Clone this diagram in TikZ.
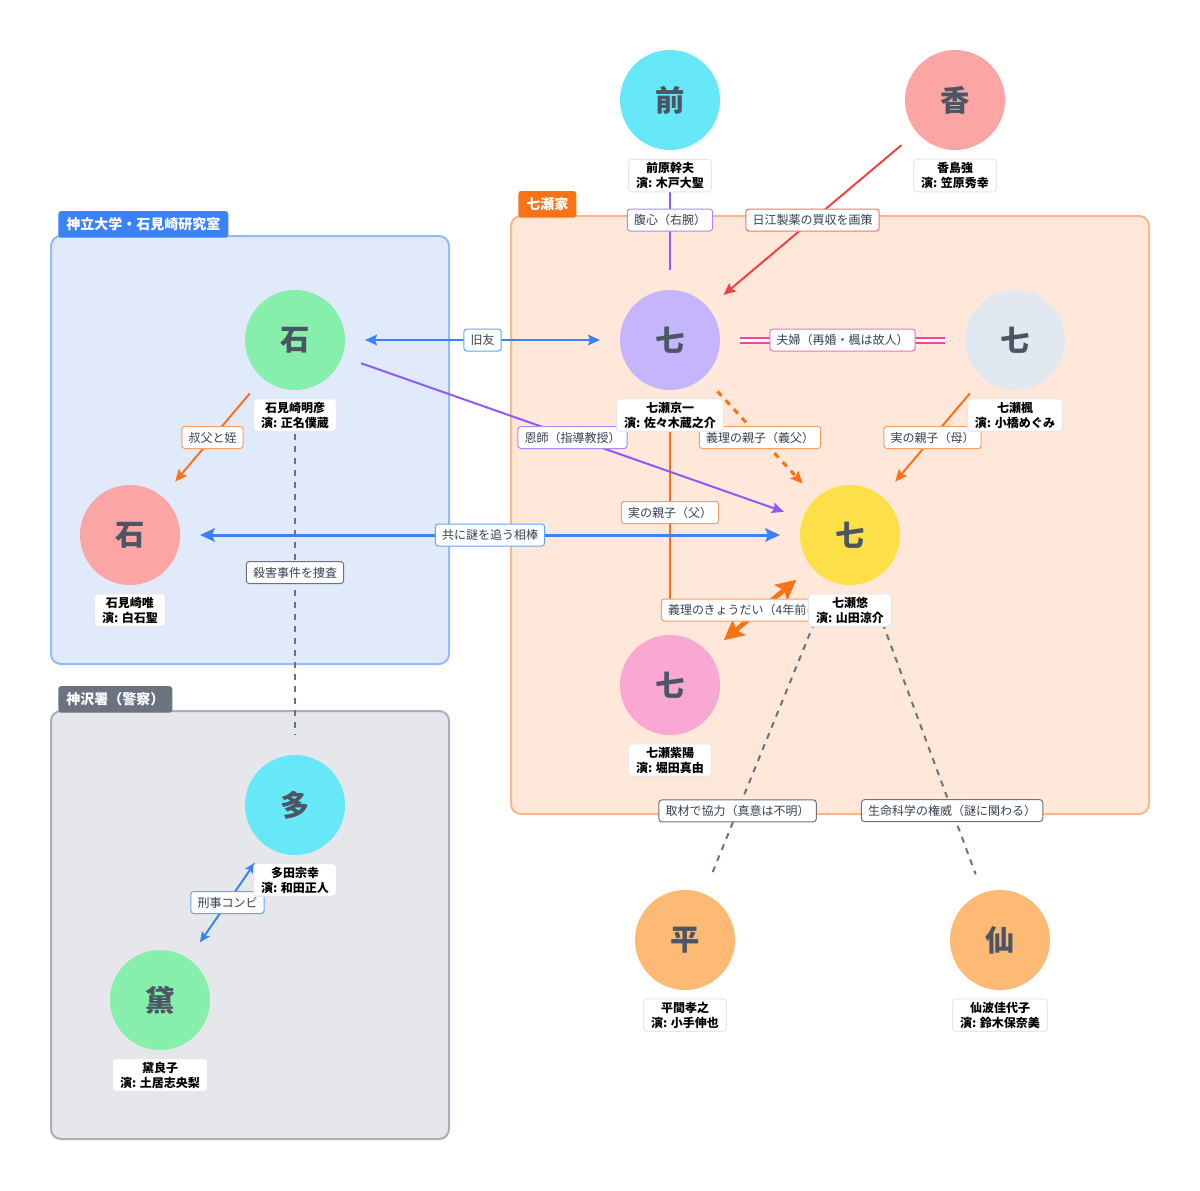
\documentclass[tikz,border=0pt]{standalone}
\usepackage{fontspec}
\setmainfont{Noto Sans CJK JP}
\usetikzlibrary{arrows.meta}
\definecolor{cCyan}{HTML}{67E8F9}
\definecolor{cRose}{HTML}{FCA5A5}
\definecolor{cGreen}{HTML}{86EFAC}
\definecolor{cLav}{HTML}{C4B5FD}
\definecolor{cSlate}{HTML}{E2E8F0}
\definecolor{cYellow}{HTML}{FDE047}
\definecolor{cPink}{HTML}{F9A8D4}
\definecolor{cPeach}{HTML}{FDBA74}
\definecolor{circtxt}{HTML}{4B5563}
\definecolor{labeltxt}{HTML}{374151}
\definecolor{nameborder}{HTML}{E5E7EB}
\definecolor{eBlue}{HTML}{3B82F6}
\definecolor{eBlueL}{HTML}{60A5FA}
\definecolor{ePurple}{HTML}{8B5CF6}
\definecolor{ePurpleL}{HTML}{A78BFA}
\definecolor{eRed}{HTML}{EF4444}
\definecolor{eRedL}{HTML}{F87171}
\definecolor{eOrange}{HTML}{F97316}
\definecolor{eOrangeL}{HTML}{FB9E5E}
\definecolor{ePink}{HTML}{EC4899}
\definecolor{ePinkL}{HTML}{F472B6}
\definecolor{eGray}{HTML}{6B7280}
\definecolor{gBlueFill}{HTML}{E0EAFB}
\definecolor{gBlueLine}{HTML}{93BBF9}
\definecolor{gBlueTab}{HTML}{3B82F6}
\definecolor{gOrFill}{HTML}{FFE8D9}
\definecolor{gOrLine}{HTML}{FDB68A}
\definecolor{gOrTab}{HTML}{F97316}
\definecolor{gGrFill}{HTML}{E5E7EB}
\definecolor{gGrLine}{HTML}{A9AEB7}
\definecolor{gGrTab}{HTML}{6B7280}
\tikzset{
  person/.style={circle, minimum size=75pt, inner sep=0pt, outer sep=0pt,
    font=\fontsize{22}{22}\selectfont\bfseries, text=circtxt},
  namebox/.style={fill=white, draw=nameborder, line width=0.75pt, rounded corners=2.25pt,
    align=center, font=\fontsize{9}{11.25}\selectfont\bfseries, inner xsep=5.5pt,
    inner ysep=2.25pt, text=black},
  elabel/.style={fill=white, line width=0.75pt, rounded corners=2.25pt,
    font=\fontsize{9}{11}\selectfont, text=labeltxt, inner xsep=5pt, inner ysep=0pt,
    minimum height=16.5pt},
  grp/.style={line width=1.5pt, rounded corners=7.5pt},
  grptab/.style={anchor=south west, text=white, font=\fontsize{10.5}{12}\selectfont\bfseries,
    rounded corners=2.25pt, minimum height=20pt, inner xsep=6pt, inner ysep=0pt},
  rel/.style={line width=1.5pt, shorten <=15pt, shorten >=15pt},
  arr/.style={-{Stealth[length=9pt,width=8pt,inset=1.5pt]}},
  arrboth/.style={{Stealth[length=9pt,width=8pt,inset=1.5pt]}-{Stealth[length=9pt,width=8pt,inset=1.5pt]}},
  dashgray/.style={rel, eGray, dash pattern=on 4.5pt off 4.5pt}
}
\begin{document}
\begin{tikzpicture}[x=0.75pt,y=-0.75pt]
\useasboundingbox (0,0) rectangle (1200,1190);
\fill[white] (0,0) rectangle (1200,1190);

% groups
\draw[grp, draw=gBlueLine, fill=gBlueFill] (51,236) rectangle (449,664);
\node[grptab, fill=gBlueTab] (tabA) at (58,238) {神立大学・石見崎研究室};
\draw[grp, draw=gGrLine, fill=gGrFill] (51,711) rectangle (449,1139);
\node[grptab, fill=gGrTab] (tabB) at (58,713) {神沢署（警察）};
\draw[grp, draw=gOrLine, fill=gOrFill] (511,216) rectangle (1149,814);
\node[grptab, fill=gOrTab] (tabC) at (518,218) {七瀬家};

% people
\node[person, fill=cCyan] (mae) at (670,100) {前};
\node[person, fill=cRose] (kash) at (955,100) {香};
\node[person, fill=cGreen] (aki) at (295,340) {石};
\node[person, fill=cLav] (kyo) at (670,340) {七};
\node[person, fill=cSlate] (kae) at (1015,340) {七};
\node[person, fill=cRose] (yui) at (130,535) {石};
\node[person, fill=cYellow] (yu) at (850,535) {七};
\node[person, fill=cPink] (shi) at (670,685) {七};
\node[person, fill=cCyan] (ta) at (295,805) {多};
\node[person, fill=cGreen] (mayu) at (160,1000) {黛};
\node[person, fill=cPeach] (hira) at (685,940) {平};
\node[person, fill=cPeach] (sen) at (1000,940) {仙};

% edges
\draw[rel, ePurple] (mae) -- node[elabel, draw=ePurpleL] {腹心（右腕）} (kyo);
\draw[rel, arr, eRed] (kash) -- node[elabel, draw=eRedL] {日江製薬の買収を画策} (kyo);
\draw[rel, arrboth, eBlue] (aki) -- node[elabel, draw=eBlueL] {旧友} (kyo);
\draw[rel, ePink, double=white, double distance=2.25pt] (kyo) -- node[elabel, draw=ePinkL] {夫婦（再婚・楓は故人）} (kae);
\draw[rel, arr, eOrange, line width=2.25pt, dash pattern=on 4.5pt off 4.5pt] (kyo) -- node[elabel, draw=eOrangeL, line width=0.75pt, solid] {義理の親子（義父）} (yu);
\draw[rel, arr, eOrange] (kae) -- node[elabel, draw=eOrangeL] {実の親子（母）} (yu);
\draw[rel, arr, eOrange] (kyo) -- node[elabel, draw=eOrangeL] {実の親子（父）} (shi);
\draw[rel, arr, eOrange] (aki) -- node[elabel, draw=eOrangeL] {叔父と姪} (yui);
\draw[rel, arr, ePurple] (aki) -- node[elabel, draw=ePurpleL] {恩師（指導教授）} (yu);
\draw[rel, eBlue, line width=2.25pt, {Stealth[length=11pt,width=10pt,inset=2pt]}-{Stealth[length=11pt,width=10pt,inset=2pt]}] (yui) -- node[elabel, draw=eBlueL, line width=0.75pt] {共に謎を追う相棒} (yu);
\draw[dashgray] (aki) -- node[elabel, draw=eGray, solid] {殺害事件を捜査} (ta);
\draw[rel, eOrange, line width=3.5pt, {Stealth[length=15pt,width=15pt,inset=3pt]}-{Stealth[length=15pt,width=15pt,inset=3pt]}] (yu) -- node[elabel, draw=eOrangeL, line width=0.75pt, text width=138pt, align=left] {義理のきょうだい（4年前に生} (shi);
\draw[dashgray] (yu) -- node[pos=0.735, elabel, draw=eGray, solid] {取材で協力（真意は不明）} (hira);
\draw[dashgray] (yu) -- node[pos=0.735, elabel, draw=eGray, solid] {生命科学の権威（謎に関わる）} (sen);
\draw[rel, eBlue, line width=1.5pt, {Stealth[length=8pt,width=7pt,inset=1.5pt]}-{Stealth[length=8pt,width=7pt,inset=1.5pt]}] (ta) -- node[elabel, draw=eBlueL] {刑事コンビ} (mayu);

% name labels
\node[namebox] (maeL) at (670,175.5) {前原幹夫\\演: 木戸大聖};
\node[namebox] (kashL) at (955,175.5) {香島強\\演: 笠原秀幸};
\node[namebox] (akiL) at (295,415) {石見崎明彦\\演: 正名僕蔵};
\node[namebox] (kyoL) at (670,415) {七瀬京一\\演: 佐々木蔵之介};
\node[namebox] (kaeL) at (1015,415) {七瀬楓\\演: 小橋めぐみ};
\node[namebox] (yuiL) at (130,610) {石見崎唯\\演: 白石聖};
\node[namebox] (yuL) at (850,610) {七瀬悠\\演: 山田涼介};
\node[namebox] (shiL) at (670,760) {七瀬紫陽\\演: 堀田真由};
\node[namebox] (taL) at (295,880) {多田宗幸\\演: 和田正人};
\node[namebox] (mayuL) at (160,1075) {黛良子\\演: 土居志央梨};
\node[namebox] (hiraL) at (685,1015) {平間孝之\\演: 小手伸也};
\node[namebox] (senL) at (1000,1015) {仙波佳代子\\演: 鈴木保奈美};
\end{tikzpicture}
\end{document}
